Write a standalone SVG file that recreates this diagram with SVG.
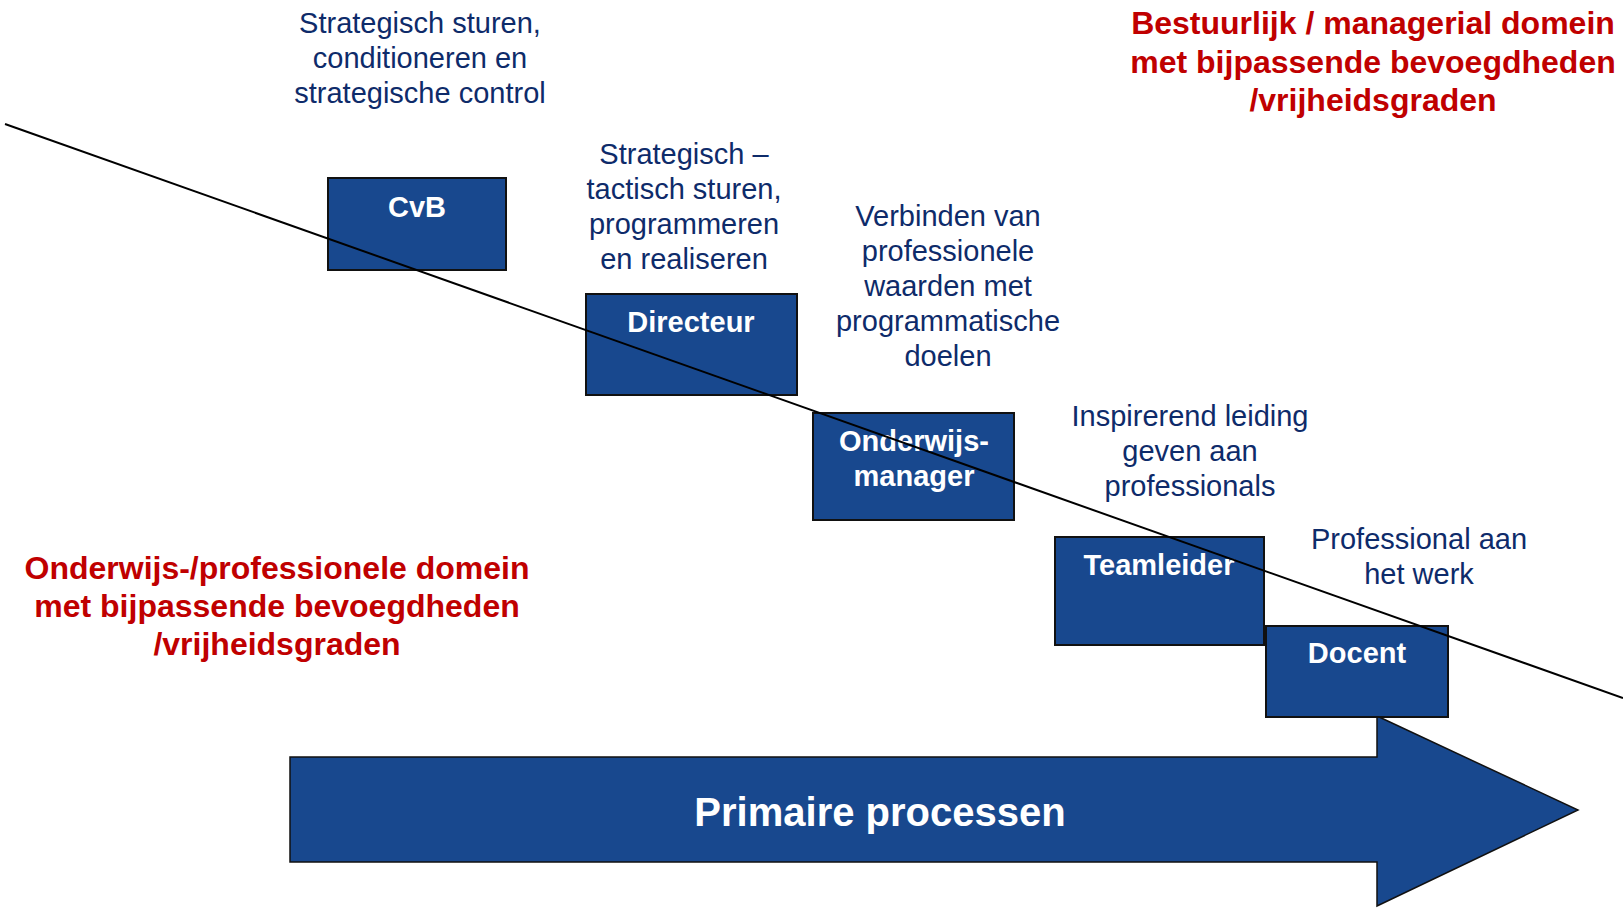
<svg xmlns="http://www.w3.org/2000/svg" width="1623" height="908" viewBox="0 0 1623 908">
  <style>
    .box { fill: #18488E; stroke: #111111; stroke-width: 2; }
    .boxlabel { font-family: "Liberation Sans", Arial, sans-serif; font-weight: bold; font-size: 29px; fill: #FFFFFF; text-anchor: middle; }
    .note { font-family: "Liberation Sans", Arial, sans-serif; font-size: 29px; fill: #0E2B6A; text-anchor: middle; }
    .domain { font-family: "Liberation Sans", Arial, sans-serif; font-weight: bold; font-size: 32px; fill: #C00000; text-anchor: middle; }
    .arrowlabel { font-family: "Liberation Sans", Arial, sans-serif; font-weight: bold; font-size: 40px; fill: #FFFFFF; text-anchor: middle; }
    .divider { stroke: #000000; stroke-width: 2; fill: none; }
  </style>

  <!-- domain headings -->
  <g id="domain-managerial">
    <text class="domain" x="1373" y="34">Bestuurlijk / managerial domein</text>
    <text class="domain" x="1373" y="72.5">met bijpassende bevoegdheden</text>
    <text class="domain" x="1373" y="111">/vrijheidsgraden</text>
  </g>
  <g id="domain-professional">
    <text class="domain" x="277" y="579">Onderwijs-/professionele domein</text>
    <text class="domain" x="277" y="617">met bijpassende bevoegdheden</text>
    <text class="domain" x="277" y="655">/vrijheidsgraden</text>
  </g>

  <!-- role descriptions -->
  <g id="note-cvb">
    <text class="note" x="420" y="33">Strategisch sturen,</text>
    <text class="note" x="420" y="68">conditioneren en</text>
    <text class="note" x="420" y="103">strategische control</text>
  </g>
  <g id="note-directeur">
    <text class="note" x="684" y="164">Strategisch –</text>
    <text class="note" x="684" y="199">tactisch sturen,</text>
    <text class="note" x="684" y="234">programmeren</text>
    <text class="note" x="684" y="269">en realiseren</text>
  </g>
  <g id="note-onderwijsmanager">
    <text class="note" x="948" y="226">Verbinden van</text>
    <text class="note" x="948" y="261">professionele</text>
    <text class="note" x="948" y="296">waarden met</text>
    <text class="note" x="948" y="331">programmatische</text>
    <text class="note" x="948" y="366">doelen</text>
  </g>
  <g id="note-teamleider">
    <text class="note" x="1190" y="426">Inspirerend leiding</text>
    <text class="note" x="1190" y="461">geven aan</text>
    <text class="note" x="1190" y="496">professionals</text>
  </g>
  <g id="note-docent">
    <text class="note" x="1419" y="549">Professional aan</text>
    <text class="note" x="1419" y="584">het werk</text>
  </g>

  <!-- primary process arrow -->
  <g id="primaire-processen">
    <polygon points="290,757 1377,757 1377,716 1578,810 1377,906 1377,862 290,862" fill="#18488E" stroke="#111111" stroke-width="1.5"/>
    <text class="arrowlabel" x="880" y="826">Primaire processen</text>
  </g>

  <!-- role boxes -->
  <g id="cvb">
    <rect class="box" x="328" y="178" width="178" height="92"/>
    <text class="boxlabel" x="417" y="217">CvB</text>
  </g>
  <g id="directeur">
    <rect class="box" x="586" y="294" width="211" height="101"/>
    <text class="boxlabel" x="691" y="332">Directeur</text>
  </g>
  <g id="onderwijsmanager">
    <rect class="box" x="813" y="413" width="201" height="107"/>
    <text class="boxlabel" x="914" y="451">Onderwijs-</text>
    <text class="boxlabel" x="914" y="486">manager</text>
  </g>
  <g id="teamleider">
    <rect class="box" x="1055" y="537" width="209" height="108"/>
    <text class="boxlabel" x="1159" y="575">Teamleider</text>
  </g>
  <g id="docent">
    <rect class="box" x="1266" y="626" width="182" height="91"/>
    <text class="boxlabel" x="1357" y="663">Docent</text>
  </g>

  <!-- boundary between the two domains -->
  <g id="connectors">
    <line class="divider" x1="5" y1="124" x2="1623" y2="698"/>
  </g>
</svg>
